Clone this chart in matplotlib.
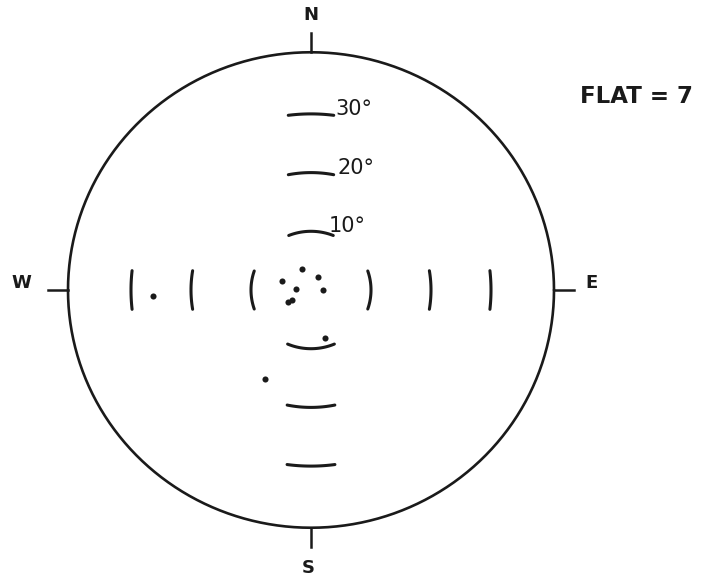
import numpy as np
import matplotlib
matplotlib.use("Agg")
import matplotlib.pyplot as plt

# Poles: trend (deg clockwise from N) and radial distance (deg)
trend = [267.6, 336.7, 287.9, 28.6, 273.9, 90.0, 242.4, 241.0, 164.0, 206.8]
dist = [26.3, 3.9, 5.0, 2.5, 2.5, 1.95, 3.6, 4.3, 8.5, 17.0]

rings = [10, 20, 30]
ring_labels = ["10°", "20°", "30°"]
ring_label_x = [2.9, 4.4, 4.0]
directions = ["N", "E", "S", "W"]
flat_count = 7

R = 40.5            # radius of the net, deg
PX, PY = 6.0, 5.87  # pixels per degree, horizontal / vertical
W_PX, H_PX = 711, 580
CX, CY = 311, 290   # centre in pixels

fig = plt.figure(figsize=(W_PX / 100, H_PX / 100), dpi=100)
ax = fig.add_axes([0, 0, 1, 1])
ax.set_xlim(-CX / PX, (W_PX - CX) / PX)
ax.set_ylim((CY - H_PX) / PY, CY / PY)
ax.set_aspect("auto")
ax.axis("off")

ink = "#1a1a1a"

# primitive circle
t = np.linspace(0, 2 * np.pi, 721)
ax.plot(R * np.cos(t), R * np.sin(t), color=ink, lw=1.9, solid_capstyle="round")

# cardinal ticks and letters
tick = 3.3
for name in directions:
    az = {"N": 0, "E": 90, "S": 180, "W": 270}[name]
    a = np.radians(az)
    sx, sy = np.sin(a), np.cos(a)
    ax.plot([R * sx, (R + tick) * sx], [R * sy, (R + tick) * sy], color=ink, lw=1.8)
pos = {"N": (0.0, 46.9), "S": (-0.5, -47.4), "W": (-48.2, 1.2), "E": (46.8, 1.2)}
for name, (x, y) in pos.items():
    ax.text(x, y, name, ha="center", va="center", fontsize=13, fontweight="bold",
            color=ink, family="DejaVu Sans")

# short concentric arcs at 10, 20, 30 deg on each cardinal axis
for r in rings:
    for az, half_len in [(0, 3.8), (180, 4.0), (90, 3.3), (270, 3.3)]:
        half = half_len / r
        th = np.radians(az) + np.linspace(-half, half, 40)
        ax.plot(r * np.sin(th), r * np.cos(th), color=ink, lw=2.2,
                solid_capstyle="round")

# ring labels on the north arm
for r, lab, lx in zip(rings, ring_labels, ring_label_x):
    ax.text(lx, r - 0.2, lab, ha="left", va="baseline", fontsize=15,
            color=ink, family="DejaVu Sans")

# data points
tr = np.radians(trend)
d = np.asarray(dist)
ax.plot(d * np.sin(tr), d * np.cos(tr), "o", color=ink, ms=4.4, mew=0)

ax.text(44.8, 32.9, f"FLAT = {flat_count}", ha="left", va="center", fontsize=16.5,
        fontweight="bold", color=ink, family="DejaVu Sans")

fig.savefig("out.png", dpi=100, facecolor="white")
